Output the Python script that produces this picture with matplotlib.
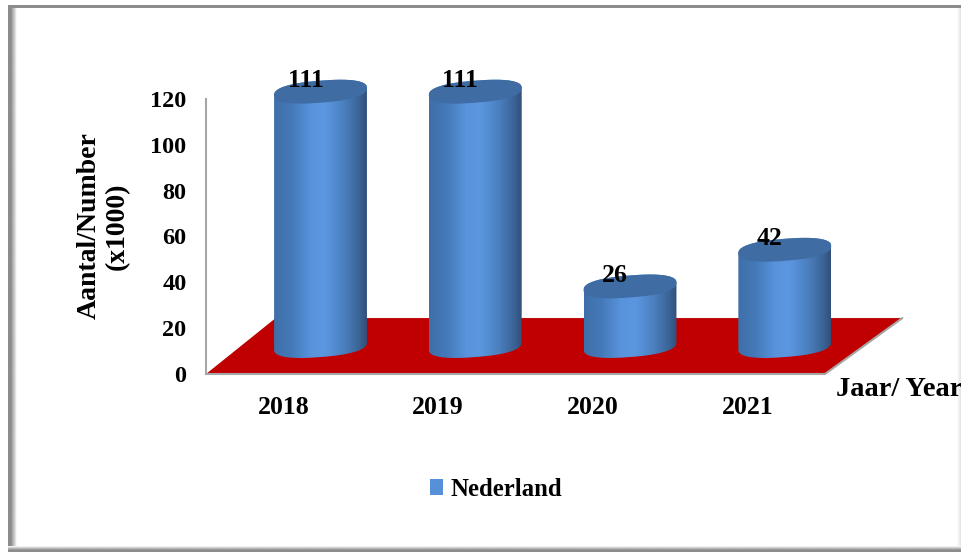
import numpy as np
import matplotlib
matplotlib.use("Agg")
import matplotlib.pyplot as plt
from matplotlib.colors import LinearSegmentedColormap
from matplotlib.patches import PathPatch, Patch
from matplotlib.path import Path

# chart data
years = ["2018", "2019", "2020", "2021"]
nederland = [111, 111, 26, 42]
y_ticks = [0, 20, 40, 60, 80, 100, 120]
series_name = "Nederland"
y_title = "Aantal/Number\n(x1000)"
x_title = "Jaar/ Year"

W, H = 962, 552
plt.rcParams["font.family"] = ["Liberation Serif", "DejaVu Serif"]
plt.rcParams["font.weight"] = "bold"

fig = plt.figure(figsize=(W / 100, H / 100), dpi=100, facecolor="white")

# frame with its soft inner shadow, drawn in pixels
frame = fig.add_axes([0, 0, 1, 1], zorder=0)
frame.axis("off")
shade = LinearSegmentedColormap.from_list("shade", ["#8c8c8c", "#8c8c8c", "#c4c4c4", "#ffffff"])
grad = np.linspace(0, 1, 64)
frame.imshow(grad[None, :], cmap=shade, extent=[8, 17, H, 5], aspect="auto")
frame.imshow(grad[None, :], cmap=LinearSegmentedColormap.from_list("s2", ["#ffffff", "#dcdcdc"]),
             extent=[957, 962, H, 5], aspect="auto")
frame.imshow(grad[:, None], cmap=shade.reversed(), extent=[8, W, 552, 546], aspect="auto")
frame.fill_between([8, W], 5, 7.5, color="#8c8c8c", lw=0)
frame.set_xlim(0, W)
frame.set_ylim(H, 0)

# plot axes: x runs over the front edge of the floor, y over the wall
left, right, top, bottom = 206, 825, 99, 374
ax = fig.add_axes([left / W, 1 - bottom / H, (right - left) / W, (bottom - top) / H], zorder=1)
ax.patch.set_alpha(0)
x_pos = np.arange(len(years))
x_min, x_max = -0.5, 3.5
for s in ["top", "right", "bottom"]:
    ax.spines[s].set_visible(False)
ax.spines["left"].set_color("#a6a6a6")
ax.spines["left"].set_linewidth(1.5)
ax.set_yticks(y_ticks)
ax.set_xticks(x_pos, years)
ax.tick_params(axis="y", length=0, pad=14, labelsize=17.5)
ax.tick_params(axis="x", length=0, pad=15.5, labelsize=18.5)

# red floor
back_left = 0.45
back_right = 0.5
depth = 24.4
floor_x = [x_min, x_max, x_max + back_right, x_min + back_left]
floor_y = [0, 0, depth, depth]
ax.fill(floor_x, floor_y, color="#c00000", lw=0, clip_on=False, zorder=1)
ax.plot([x_min, x_max, x_max + back_right], [0, 0, depth], color="#a6a6a6", lw=1.5,
        clip_on=False, zorder=1, solid_capstyle="round")
ax.plot([x_min + back_left, x_max + back_right], [depth, depth], color="#b0b0b0", lw=0.8,
        clip_on=False, zorder=0.9)

# cylinders stand in the middle of the floor
shift_x = 0.24
shift_y = 12.2
half_w = 0.3
ell_h = 4.8
skew = 5.2
roundness = 0.82  # below 1 gives the fuller ellipse of the original
body_cmap = LinearSegmentedColormap.from_list(
    "body",
    [(0, "#3f6fa8"), (0.18, "#4479b8"), (0.4, "#5893dc"), (0.55, "#5b97e0"),
     (0.75, "#4b80c0"), (0.92, "#3b6395"), (1, "#31507a")],
)


def ellipse_xy(angles):
    c, s = np.cos(angles), np.sin(angles)
    ex = half_w * np.sign(c) * np.abs(c) ** roundness
    ey = ell_h * np.sign(s) * np.abs(s) ** roundness + skew * ex
    return ex, ey


t = np.linspace(0, np.pi, 60)

for i, val in enumerate(nederland):
    cx = x_pos[i] + shift_x
    # lower half of the base, then upper half of the top
    bx, by = ellipse_xy(t + np.pi)
    tx, ty = ellipse_xy(t)
    verts = np.column_stack([np.r_[cx + bx, cx + tx], np.r_[shift_y + by, shift_y + val + ty]])
    body = PathPatch(Path(verts), facecolor="none", edgecolor="none", zorder=2)
    ax.add_patch(body)
    im = ax.imshow(np.linspace(0, 1, 256)[None, :], cmap=body_cmap, aspect="auto", zorder=2,
                   extent=[cx - half_w, cx + half_w, shift_y - 10, shift_y + val + 10])
    im.set_clip_box(fig.bbox)
    im.set_clip_path(body)

    # flat top
    ex, ey = ellipse_xy(np.linspace(0, 2 * np.pi, 120))
    ax.fill(cx + ex, shift_y + val + ey, color="#3f6ca3", lw=0, zorder=3, clip_on=False)

    ax.annotate(str(val), xy=(cx, shift_y + val), xytext=(-15, 11), textcoords="offset pixels",
                ha="center", va="center", fontsize=18.5, color="black", zorder=5, annotation_clip=False)

ax.set_xlim(x_min, x_max)
ax.set_ylim(0, 120)

ax.set_ylabel(y_title, fontsize=20, fontweight="bold", linespacing=1.15)
ax.yaxis.set_label_coords(-0.123, 0.538)
ax.text(836 / W, 1 - 390 / H, x_title, transform=fig.transFigure, fontsize=20.5, ha="left", va="center")

leg = ax.legend(handles=[Patch(facecolor="#5590d8", edgecolor="none", label=series_name)],
                loc="center", bbox_to_anchor=(496 / W, 1 - 489 / H), bbox_transform=fig.transFigure,
                frameon=False, prop={"size": 17.8, "weight": "bold"},
                handlelength=0.55, handleheight=0.6, handletextpad=0.3, borderpad=0)

fig.savefig("out.png", dpi=100)
